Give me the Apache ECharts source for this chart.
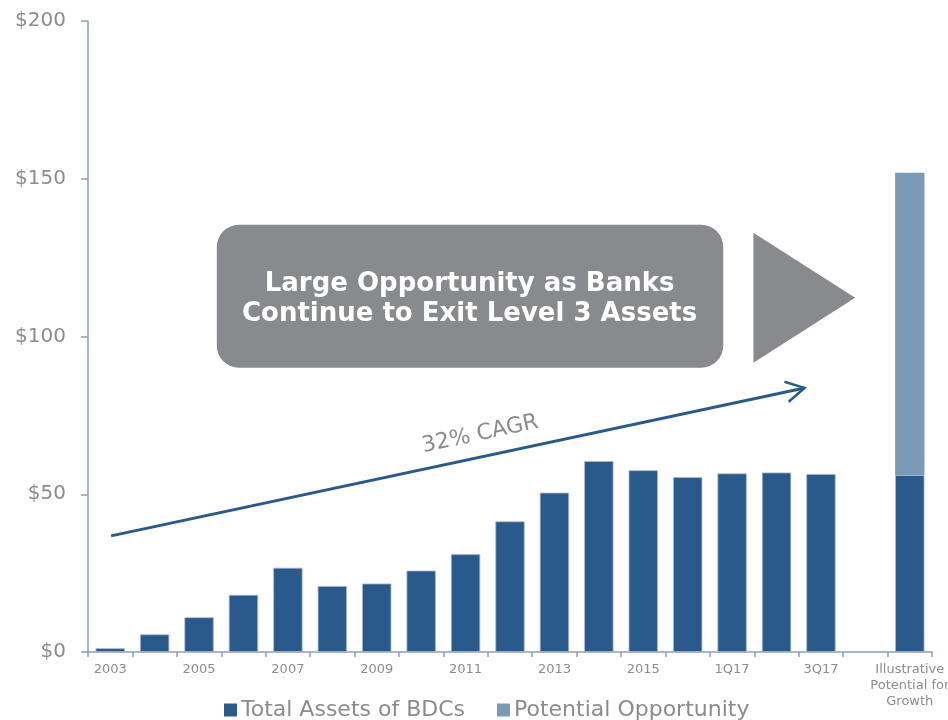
<!DOCTYPE html>
<html>
<head>
<meta charset="utf-8">
<script src="https://cdn.jsdelivr.net/npm/echarts@6/dist/echarts.min.js"></script>
<style>html,body{margin:0;padding:0;background:#fff}#c{width:948px;height:720px}</style>
</head>
<body>
<div id="c"></div>
<script>
const categories = ['2003','2004','2005','2006','2007','2008','2009','2010','2011','2012','2013','2014','2015','2016','1Q17','2Q17','3Q17','','Illustrative\nPotential for\nGrowth'];
const totalAssets = [1.2, 5.6, 11.0, 18.1, 26.7, 20.9, 21.7, 25.8, 31.0, 41.4, 50.5, 60.5, 57.6, 55.4, 56.6, 56.9, 56.4, null, 56.1];
const potential = [null,null,null,null,null,null,null,null,null,null,null,null,null,null,null,null,null,null, 95.8];
const yTicks = [0, 50, 100, 150, 200];
const seriesNames = ['Total Assets of BDCs', 'Potential Opportunity'];
const calloutText = 'Large Opportunity as Banks\nContinue to Exit Level 3 Assets';
const cagrText = '32% CAGR';
// annotation anchors in data space: [category position, value]
const cagrStart = [0.02, 36.8];
const cagrEnd = [15.63, 83.7];
const cagrLabelAt = [8.33, 69.0];
const boxCorners = [[2.40, 135.4], [13.80, 90.1]];
const triPoints = [[14.48, 132.9], [16.77, 112.3], [14.48, 91.7]];
const calloutCenter = [8.09, 111.8];

const FONT = 'DejaVu Sans, Verdana, sans-serif';
const TXT = '#8c8c8c';
const AX = '#8e9db8';
const DARK = '#2a5a8b';
const LIGHT = '#7a9ab6';
const BOXC = '#898a8e';

const chart = echarts.init(document.getElementById('c'));
chart.setOption({
  animation: false,
  textStyle: { fontFamily: FONT },
  grid: { left: 88, right: 16, top: 21, bottom: 68, containLabel: false, outerBoundsMode: 'none' },
  legend: {
    data: seriesNames,
    top: 694, left: 219,
    icon: 'rect', itemWidth: 13, itemHeight: 13, itemGap: 32,
    itemStyle: { borderWidth: 0 },
    textStyle: { fontSize: 22, color: TXT, fontFamily: FONT, padding: [0, 0, 0, -1] }
  },
  xAxis: {
    type: 'category', data: categories, boundaryGap: true,
    axisLine: { lineStyle: { color: AX, width: 1.5 } },
    axisTick: { show: true, length: 5, lineStyle: { color: AX, width: 1.5 }, interval: 0 },
    axisLabel: { interval: 1, fontSize: 13, color: TXT, margin: 10, lineHeight: 16, fontFamily: FONT, hideOverlap: false }
  },
  yAxis: {
    type: 'value', min: yTicks[0], max: yTicks[yTicks.length-1], interval: 50,
    axisLine: { show: true, lineStyle: { color: AX, width: 1.5 } },
    axisTick: { show: true, length: 7, lineStyle: { color: AX, width: 1.5 } },
    splitLine: { show: false },
    axisLabel: { fontSize: 20, color: TXT, margin: 22, fontFamily: FONT, formatter: v => '$' + v }
  },
  series: [
    { name: seriesNames[0], type: 'bar', stack: 'a', data: totalAssets, barWidth: '66%',
      itemStyle: { color: DARK, borderColor: '#a9b8cf', borderWidth: 0.8 } },
    { name: seriesNames[1], type: 'bar', stack: 'a', data: potential, barWidth: '66%',
      itemStyle: { color: LIGHT } }
  ]
});

function pt(p) {
  const a = chart.convertToPixel({ gridIndex: 0 }, [0, p[1]]);
  const b = chart.convertToPixel({ gridIndex: 0 }, [1, p[1]]);
  return [a[0] + p[0] * (b[0] - a[0]), a[1]];
}
const s = pt(cagrStart), e = pt(cagrEnd);
const ang = Math.atan2(e[1] - s[1], e[0] - s[0]);
const back = ang + Math.PI;
const armL = 21, armA = 29 * Math.PI / 180;
const a1 = [e[0] + armL * Math.cos(back + armA), e[1] + armL * Math.sin(back + armA)];
const a2 = [e[0] + armL * Math.cos(back - armA), e[1] + armL * Math.sin(back - armA)];
const b0 = pt(boxCorners[0]), b1 = pt(boxCorners[1]);
const lc = pt(cagrLabelAt);
const cc = pt(calloutCenter);

chart.setOption({
  graphic: [
    { type: 'rect', shape: { x: b0[0], y: b0[1], width: b1[0] - b0[0], height: b1[1] - b0[1], r: 22 },
      style: { fill: BOXC }, z: 10 },
    { type: 'polygon', shape: { points: triPoints.map(pt) }, style: { fill: BOXC }, z: 10 },
    { type: 'text', x: cc[0], y: cc[1], z: 11,
      style: { text: calloutText, fill: '#ffffff', font: 'bold 26px ' + FONT, align: 'center', verticalAlign: 'middle', lineHeight: 30 } },
    { type: 'line', shape: { x1: s[0], y1: s[1], x2: e[0], y2: e[1] }, style: { stroke: DARK, lineWidth: 3 }, z: 10 },
    { type: 'polyline', shape: { points: [a1, e, a2] }, style: { stroke: DARK, lineWidth: 2.5, fill: null }, z: 10 },
    { type: 'text', x: lc[0], y: lc[1], rotation: -ang, z: 11,
      style: { text: cagrText, fill: TXT, font: '22px ' + FONT, align: 'center', verticalAlign: 'middle' } }
  ]
});
</script>
</body>
</html>
